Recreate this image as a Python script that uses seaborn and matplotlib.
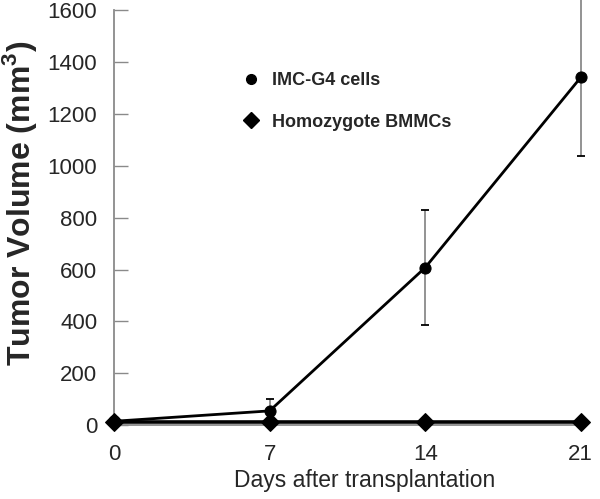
import pandas as pd
import matplotlib
matplotlib.use("Agg")
import matplotlib.pyplot as plt
import seaborn as sns
from matplotlib.lines import Line2D

days = [0, 7, 14, 21]
imc_mean = [15, 55, 608, 1342]
imc_err = [0, 45, 222, 302]
bmmc_mean = [12, 12, 12, 12]
series_names = ["IMC-G4 cells", "Homozygote BMMCs"]

df = pd.DataFrame({
    "day": days * 2,
    "volume": imc_mean + bmmc_mean,
    "group": [series_names[0]] * 4 + [series_names[1]] * 4,
})

sns.set_style("white")
plt.rcParams["font.family"] = ["Liberation Sans", "DejaVu Sans"]

fig = plt.figure(figsize=(6, 4.99), dpi=100)
ax = fig.add_axes([0.19, 0.148, 0.778, 0.831])

# error bars for the IMC-G4 series (grey, behind markers)
ax.errorbar(days, imc_mean, yerr=imc_err, fmt="none", ecolor="#8a8a8a",
            elinewidth=1.3, capsize=3, capthick=1.3, zorder=2, clip_on=False)

sns.lineplot(data=df, x="day", y="volume", hue="group", style="group",
             markers={series_names[0]: "o", series_names[1]: "D"},
             dashes=False, palette=["black", "black"], ax=ax, legend=False,
             zorder=3, clip_on=False)

for line in ax.get_lines():
    line.set_linewidth(2)
ax.lines[-1].set_linewidth(2.6)
ax.lines[-2].set_markersize(8)
ax.lines[-1].set_markersize(9.5)
for line in ax.lines:
    line.set_markeredgecolor("black")
    line.set_clip_on(False)

ax.set_xlim(0, 21)
ax.set_ylim(0, 1600)
ax.set_xticks(days)
ax.set_yticks(range(0, 1601, 200))
ax.tick_params(axis="y", left=True, direction="in", length=10, width=1,
               color="#8a8a8a", labelsize=16, pad=12)
ax.tick_params(axis="x", bottom=False, labelsize=16, pad=10)
sns.despine(ax=ax)
for s in ["left", "bottom"]:
    ax.spines[s].set_color("#8a8a8a")
    ax.spines[s].set_linewidth(1.3)

ax.set_xlabel("Days after transplantation", fontsize=16.5)
ax.set_ylabel("Tumor Volume (mm$^\\mathregular{3}$)", fontsize=23,
              fontweight="bold")
ax.xaxis.set_label_coords(0.537, -0.105)
ax.yaxis.set_label_coords(-0.16, 0.535)

handles = [
    Line2D([], [], color="black", marker="o", linestyle="none", markersize=7),
    Line2D([], [], color="black", marker="D", linestyle="none", markersize=8),
]
ax.legend(handles, series_names, loc="upper left", bbox_to_anchor=(0.22, 0.89),
          frameon=False, prop={"weight": "bold", "size": 13},
          handletextpad=0.15, labelspacing=1.35)

fig.savefig("out.png", dpi=100)
